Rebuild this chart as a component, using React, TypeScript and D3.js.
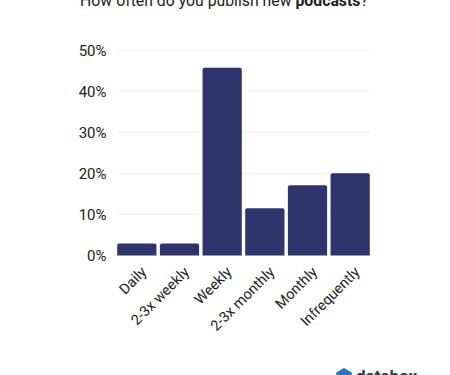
import React from "react";
import * as d3 from "d3";

const categories = ["Daily", "2-3x weekly", "Weekly", "2-3x monthly", "Monthly", "Infrequently"];
const values = [2.9, 2.9, 45.7, 11.5, 17.1, 20];
const yTicks = [0, 10, 20, 30, 40, 50];

const font = "Roboto, sans-serif";

function roundedTop(x: number, y: number, w: number, h: number, r: number) {
  const p = d3.path();
  p.moveTo(x, y + h);
  p.lineTo(x, y + r);
  p.quadraticCurveTo(x, y, x + r, y);
  p.lineTo(x + w - r, y);
  p.quadraticCurveTo(x + w, y, x + w, y + r);
  p.lineTo(x + w, y + h);
  p.closePath();
  return p.toString();
}

export default function App() {
  const xScale = d3.scaleBand<string>().domain(categories).range([115.5, 371.5]).paddingInner(0.08).paddingOuter(0.04);
  const yScale = d3.scaleLinear().domain([0, 50]).range([255.5, 50]);
  const hex = d3.lineRadial<number>().angle((d) => d).radius(9).curve(d3.curveLinearClosed);
  const hexPts = d3.range(6).map((i) => (i * Math.PI) / 3);

  return (
    <svg width={450} height={375} style={{ position: "fixed", left: 0, top: 0, background: "#fff" }} fontFamily={font}>
      <rect width={450} height={375} fill="#fff" />
      <text x={224} y={6} textAnchor="middle" fontSize={15.8} fill="#222">
        How often do you publish new <tspan fontWeight={700}>podcasts</tspan>?
      </text>
      {yTicks.map((t) => (
        <g key={t}>
          {t > 0 && <line x1={117} x2={370} y1={yScale(t)} y2={yScale(t)} stroke="#f0f0f0" strokeWidth={1} />}
          <text x={106.5} y={yScale(t) + 5.5} textAnchor="end" fontSize={15} fill="#222">
            {t}%
          </text>
        </g>
      ))}
      {categories.map((c, i) => {
        const x = xScale(c)!;
        const y = yScale(values[i]);
        return (
          <path key={c} d={roundedTop(x, y, xScale.bandwidth(), yScale(0) - y, 2)} fill="#2f346d" />
        );
      })}
      {categories.map((c) => {
        const cx = xScale(c)! + xScale.bandwidth() / 2 + 10.5;
        return (
          <text key={c} transform={`translate(${cx},273) rotate(-45)`} textAnchor="end" fontSize={14.5} fill="#222">
            {c}
          </text>
        );
      })}
      <path d={hex(hexPts)!} transform="translate(344,377)" fill="#2f6fc4" />
      <text x={356} y={382} fontSize={17} fontWeight={700} fill="#333a45">
        databox
      </text>
    </svg>
  );
}
